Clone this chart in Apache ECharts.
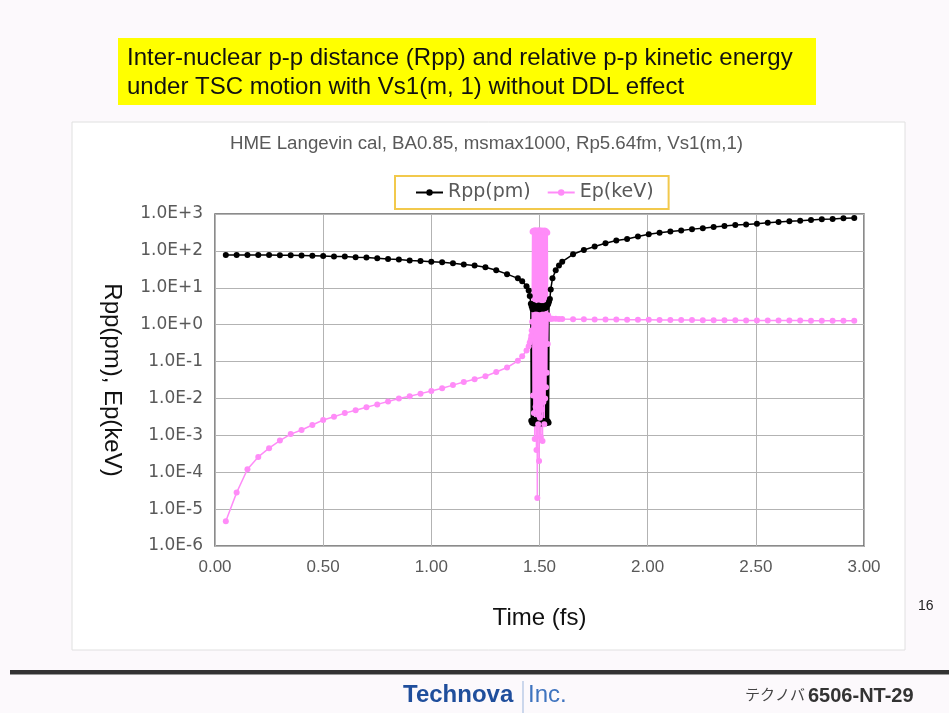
<!DOCTYPE html>
<html>
<head>
<meta charset="utf-8">
<script src="https://cdn.jsdelivr.net/npm/echarts@6/dist/echarts.min.js"></script>
<style>
  html, body { margin: 0; padding: 0; background: #fcf9fc; }
  #chart { width: 949px; height: 713px; }
</style>
</head>
<body>
<div id="chart"></div>
<script>
// time points (fs), shared by both series
var timeFs = [
  0.05, 0.10, 0.15, 0.20, 0.25, 0.30, 0.35, 0.40, 0.45, 0.50,
  0.55, 0.60, 0.65, 0.70, 0.75, 0.80, 0.85, 0.90, 0.95, 1.00,
  1.05, 1.10, 1.15, 1.20, 1.25, 1.30, 1.35, 1.40, 1.42, 1.44,
  1.45, 1.455, 1.46,
  // collision region
  1.462, 1.464, 1.466, 1.468, 1.470, 1.472, 1.474, 1.476, 1.478, 1.480,
  1.482, 1.484, 1.486, 1.488, 1.490, 1.492, 1.494, 1.496, 1.498, 1.500,
  1.502, 1.504, 1.506, 1.508, 1.510, 1.512, 1.514, 1.516, 1.518, 1.520,
  1.522, 1.524, 1.526, 1.528, 1.530, 1.532, 1.534, 1.536, 1.538, 1.540,
  1.542, 1.544,
  // after
  1.548, 1.552, 1.56, 1.575, 1.59,
  1.605, 1.655, 1.705, 1.755, 1.805, 1.855, 1.905, 1.955, 2.005, 2.055,
  2.105, 2.155, 2.205, 2.255, 2.305, 2.355, 2.405, 2.455, 2.505, 2.555,
  2.605, 2.655, 2.705, 2.755, 2.805, 2.855, 2.905, 2.955
];

// inter-nuclear distance Rpp (pm)
var rppPm = [
  77, 77, 77, 77, 77, 76, 76, 75, 74, 73,
  71, 70, 67, 66, 63, 60, 58, 55, 53, 51,
  49, 46, 43, 40, 36, 30, 23.4, 18, 15, 11,
  8.5, 6, 3.7,
  0.0025, 3.1, 0.0022, 2.6, 0.0024, 3.4, 0.0021, 2.9, 0.0026, 3.2,
  0.0023, 2.7, 0.0022, 3.0, 0.0025, 2.8, 0.0021, 3.3, 0.0024, 2.6,
  0.0022, 3.1, 0.0023, 2.9, 0.0021, 3.2, 0.0025, 2.7, 0.0022, 3.0,
  0.0024, 2.8, 0.0021, 3.3, 0.0023, 2.9, 0.0022, 3.4, 0.0024, 3.6,
  0.0022, 4.2,
  5, 9, 18, 30, 40,
  51, 81, 106, 131, 161, 191, 211, 246, 284, 309,
  337, 359, 389, 414, 441, 470, 500, 523, 543, 578,
  604, 632, 656, 686, 716, 730, 763, 778
];

// relative p-p kinetic energy Ep (keV)
var epKeV = [
  4.7e-6, 2.8e-5, 1.2e-4, 2.6e-4, 4.5e-4, 7.2e-4, 1.08e-3, 1.4e-3, 1.9e-3, 2.6e-3,
  3.2e-3, 4.0e-3, 4.8e-3, 5.8e-3, 6.9e-3, 8.3e-3, 1.0e-2, 1.15e-2, 1.35e-2, 1.6e-2,
  1.9e-2, 2.3e-2, 2.8e-2, 3.3e-2, 4.0e-2, 5.2e-2, 0.069, 0.105, 0.14, 0.2,
  0.26, 0.33, 0.4,
  0.5, 0.7, 1.2, 330, 0.012, 350, 0.004, 340, 0.0008, 360,
  0.006, 345, 0.0004, 330, 0.00002, 355, 0.002, 340, 0.0002, 360,
  0.003, 345, 0.0009, 335, 0.005, 355, 0.0007, 345, 0.008, 340,
  0.002, 355, 0.01, 345, 0.02, 330, 0.05, 310, 0.3, 1.8,
  1.6, 1.5,
  1.45, 1.45, 1.44, 1.44, 1.43,
  1.42, 1.41, 1.40, 1.39, 1.38, 1.37, 1.36, 1.35, 1.35, 1.34,
  1.34, 1.33, 1.33, 1.32, 1.32, 1.31, 1.31, 1.30, 1.30, 1.30,
  1.29, 1.29, 1.29, 1.28, 1.28, 1.28, 1.27, 1.27
];

var yTickLabels = ['1.0E-6', '1.0E-5', '1.0E-4', '1.0E-3', '1.0E-2', '1.0E-1',
                   '1.0E+0', '1.0E+1', '1.0E+2', '1.0E+3'];

function pairs(vals) {
  return timeFs.map(function (t, i) { return [t, vals[i]]; });
}

var chart = echarts.init(document.getElementById('chart'));

var fontMain = 'Liberation Sans, Arial, sans-serif';
var fontWide = 'DejaVu Sans, sans-serif';

chart.setOption({
  animation: false,
  backgroundColor: '#fcf9fc',
  graphic: [
    // chart box
    { type: 'rect', z: -10, shape: { x: 72, y: 122, width: 833, height: 528 },
      style: { fill: '#ffffff', stroke: '#e0e0e0', lineWidth: 1 } },
    // yellow title
    { type: 'rect', shape: { x: 118, y: 38, width: 698, height: 67 },
      style: { fill: '#ffff00' } },
    { type: 'text', left: 127, top: 44,
      style: { text: 'Inter-nuclear p-p distance (Rpp) and relative p-p kinetic energy\nunder TSC motion with Vs1(m, 1) without DDL effect',
               font: '24px ' + fontMain, fill: '#111', lineHeight: 29 } },
    // subtitle
    { type: 'text', left: 230, top: 134,
      style: { text: 'HME Langevin cal, BA0.85, msmax1000, Rp5.64fm, Vs1(m,1)',
               font: '18.7px ' + fontMain, fill: '#595959' } },
    // page number
    { type: 'text', left: 918, top: 599,
      style: { text: '16', font: '14px ' + fontMain, fill: '#222' } },
    // footer rule
    { type: 'rect', shape: { x: 10, y: 670, width: 939, height: 4 },
      style: { fill: '#333' } },
    { type: 'rect', shape: { x: 10, y: 674, width: 939, height: 1 },
      style: { fill: '#999' } },
    { type: 'text', left: 403, top: 683,
      style: { text: 'Technova', font: 'bold 24px Liberation Sans Narrow, Liberation Sans, sans-serif', fill: '#1f4e9c' } },
    { type: 'line', shape: { x1: 523, y1: 681, x2: 523, y2: 713 },
      style: { stroke: '#9bb5dc', lineWidth: 1 } },
    { type: 'text', left: 528, top: 683,
      style: { text: 'Inc.', font: '24px Liberation Sans Narrow, Liberation Sans, sans-serif', fill: '#3f74bf' } },
    { type: 'text', left: 745, top: 687,
      style: { text: 'テクノバ', font: '15px Noto Sans CJK JP', fill: '#444' } },
    { type: 'text', left: 808, top: 686,
      style: { text: '6506-NT-29', font: 'bold 20px Liberation Sans Narrow, Liberation Sans, sans-serif', fill: '#333' } }
  ],
  legend: {
    left: 395,
    top: 176,
    padding: [7, 15, 7, 20],
    itemGap: 16,
    itemWidth: 27,
    itemHeight: 8,
    borderColor: '#f2c94c',
    borderWidth: 2,
    backgroundColor: '#ffffff',
    textStyle: { fontSize: 19, color: '#595959', fontFamily: fontWide },
    data: ['Rpp(pm)', 'Ep(keV)']
  },
  grid: {
    left: 215, right: 85, top: 214, bottom: 167,
    show: true, borderColor: '#666', borderWidth: 1.5
  },
  xAxis: {
    type: 'value', min: 0, max: 3, interval: 0.5,
    name: 'Time (fs)', nameLocation: 'middle', nameGap: 60,
    nameTextStyle: { fontSize: 24, color: '#111', fontFamily: fontMain },
    axisLine: { show: false },
    axisTick: { show: false },
    axisLabel: { fontSize: 17, color: '#595959', margin: 13, fontFamily: fontMain,
                 formatter: function (v) { return v.toFixed(2); } },
    splitLine: { show: true, lineStyle: { color: '#b3b3b3', width: 1 } }
  },
  yAxis: {
    type: 'log', logBase: 10, min: 1e-6, max: 1e3, interval: 1,
    name: 'Rpp(pm), Ep(keV)', nameLocation: 'middle', nameGap: 91, nameRotate: -90,
    nameTextStyle: { fontSize: 24, color: '#111', fontFamily: fontMain },
    axisLine: { show: false },
    axisTick: { show: false },
    axisLabel: { fontSize: 17, color: '#595959', margin: 12, fontFamily: fontWide,
                 formatter: function (v) {
                   var e = Math.round(Math.log(v) / Math.LN10);
                   return yTickLabels[e + 6];
                 } },
    splitLine: { show: true, lineStyle: { color: '#b3b3b3', width: 1 } },
    minorSplitLine: { show: false }
  },
  series: [
    {
      name: 'Rpp(pm)', type: 'line', data: pairs(rppPm),
      symbol: 'circle', symbolSize: 6, showSymbol: true,
      itemStyle: { color: '#000000' },
      lineStyle: { color: '#000000', width: 1.5 }
    },
    {
      name: 'Ep(keV)', type: 'line', data: pairs(epKeV),
      symbol: 'circle', symbolSize: 6, showSymbol: true,
      itemStyle: { color: '#ff8cf8' },
      lineStyle: { color: '#ff8cf8', width: 1.5 }
    }
  ]
});
</script>
</body>
</html>
